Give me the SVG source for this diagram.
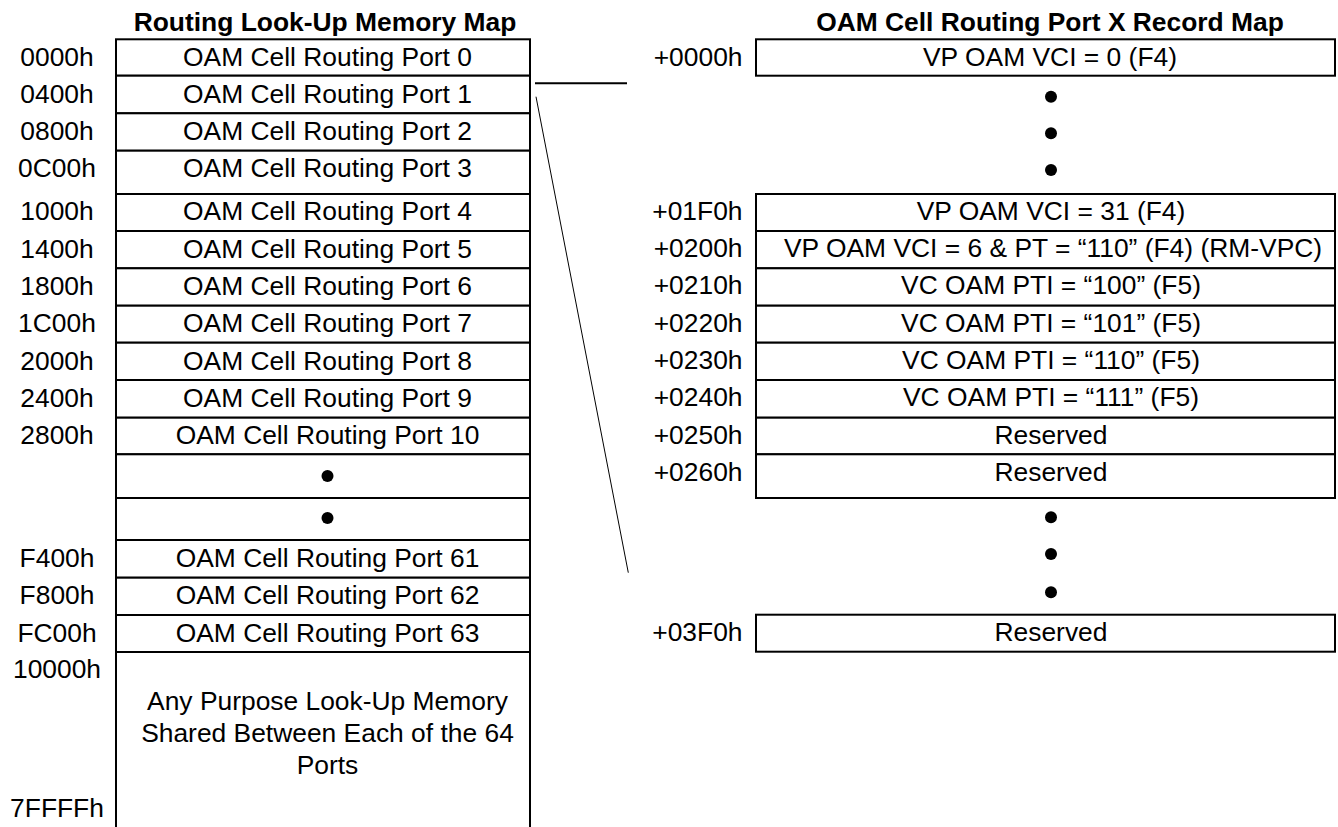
<svg xmlns="http://www.w3.org/2000/svg" width="1338" height="827" viewBox="0 0 1338 827">
<style>
text{font-family:"Liberation Sans",Arial,sans-serif;font-size:26.4px;fill:#000}
.t{font-weight:bold}
.c{text-anchor:middle}
.e{text-anchor:end}
.b{fill:#fff;stroke:#000;stroke-width:2}
.d{fill:#000}
.ln{stroke:#000;fill:none}
</style>
<rect width="1338" height="827" fill="#fff"/>
<text class="t c" x="325" y="31">Routing Look-Up Memory Map</text>
<text class="t c" x="1050" y="31">OAM Cell Routing Port X Record Map</text>

<g id="left-map">
<g id="p0"><rect class="b" x="116" y="39.3" width="414" height="36.4"/><text class="c" x="57" y="66">0000h</text><text class="c" x="327.5" y="66">OAM Cell Routing Port 0</text></g>
<g id="p1"><rect class="b" x="116" y="75.7" width="414" height="37.6"/><text class="c" x="57" y="102.5">0400h</text><text class="c" x="327.5" y="102.5">OAM Cell Routing Port 1</text></g>
<g id="p2"><rect class="b" x="116" y="113.3" width="414" height="37.4"/><text class="c" x="57" y="140">0800h</text><text class="c" x="327.5" y="140">OAM Cell Routing Port 2</text></g>
<g id="p3"><rect class="b" x="116" y="150.7" width="414" height="43.3"/><text class="c" x="57" y="177">0C00h</text><text class="c" x="327.5" y="177">OAM Cell Routing Port 3</text></g>
<g id="p4"><rect class="b" x="116" y="194" width="414" height="37"/><text class="c" x="57" y="220">1000h</text><text class="c" x="327.5" y="220">OAM Cell Routing Port 4</text></g>
<g id="p5"><rect class="b" x="116" y="231" width="414" height="37.3"/><text class="c" x="57" y="257.5">1400h</text><text class="c" x="327.5" y="257.5">OAM Cell Routing Port 5</text></g>
<g id="p6"><rect class="b" x="116" y="268.3" width="414" height="37.4"/><text class="c" x="57" y="295">1800h</text><text class="c" x="327.5" y="295">OAM Cell Routing Port 6</text></g>
<g id="p7"><rect class="b" x="116" y="305.7" width="414" height="37"/><text class="c" x="57" y="332">1C00h</text><text class="c" x="327.5" y="332">OAM Cell Routing Port 7</text></g>
<g id="p8"><rect class="b" x="116" y="342.7" width="414" height="37.3"/><text class="c" x="57" y="369.5">2000h</text><text class="c" x="327.5" y="369.5">OAM Cell Routing Port 8</text></g>
<g id="p9"><rect class="b" x="116" y="380" width="414" height="37.7"/><text class="c" x="57" y="406.8">2400h</text><text class="c" x="327.5" y="406.8">OAM Cell Routing Port 9</text></g>
<g id="p10"><rect class="b" x="116" y="417.7" width="414" height="36.6"/><text class="c" x="57" y="444">2800h</text><text class="c" x="327.5" y="444">OAM Cell Routing Port 10</text></g>
<g id="pdots1"><rect class="b" x="116" y="454.3" width="414" height="43.7"/><circle class="d" cx="327.5" cy="476" r="6"/></g>
<g id="pdots2"><rect class="b" x="116" y="498" width="414" height="42"/><circle class="d" cx="327.5" cy="518" r="6"/></g>
<g id="p61"><rect class="b" x="116" y="540" width="414" height="37.7"/><text class="c" x="57" y="566.7">F400h</text><text class="c" x="327.5" y="566.7">OAM Cell Routing Port 61</text></g>
<g id="p62"><rect class="b" x="116" y="577.7" width="414" height="37.3"/><text class="c" x="57" y="604.3">F800h</text><text class="c" x="327.5" y="604.3">OAM Cell Routing Port 62</text></g>
<g id="p63"><rect class="b" x="116" y="615" width="414" height="37"/><text class="c" x="57" y="641.7">FC00h</text><text class="c" x="327.5" y="641.7">OAM Cell Routing Port 63</text></g>
<g id="shared"><path class="ln" stroke-width="2" d="M116 652H530M116 652V830M530 652V830"/><text class="c" x="57" y="677.5">10000h</text><text class="c" x="57" y="817">7FFFFh</text><text class="c" x="327.5" y="710">Any Purpose Look-Up Memory</text><text class="c" x="327.5" y="742">Shared Between Each of the 64</text><text class="c" x="327.5" y="774">Ports</text></g>
</g>

<g id="right-map">
<g id="r0000"><rect class="b" x="756" y="39.3" width="579" height="36.4"/><text class="e" x="742.5" y="65.5">+0000h</text><text class="c" x="1050" y="65.5">VP OAM VCI = 0 (F4)</text></g>
<g id="rdots1"><circle class="d" cx="1051" cy="96.7" r="6"/><circle class="d" cx="1051" cy="133.3" r="6"/><circle class="d" cx="1051" cy="170" r="6"/></g>
<g id="r01F0"><rect class="b" x="756" y="194" width="579" height="37"/><text class="e" x="742.5" y="219.5">+01F0h</text><text class="c" x="1051" y="219.5">VP OAM VCI = 31 (F4)</text></g>
<g id="r0200"><rect class="b" x="756" y="231" width="579" height="37.3"/><text class="e" x="742.5" y="256.5">+0200h</text><text class="c" x="1053" y="256.5">VP OAM VCI = 6 &amp; PT = “110” (F4) (RM-VPC)</text></g>
<g id="r0210"><rect class="b" x="756" y="268.3" width="579" height="37.4"/><text class="e" x="742.5" y="294">+0210h</text><text class="c" x="1051" y="294">VC OAM PTI = “100” (F5)</text></g>
<g id="r0220"><rect class="b" x="756" y="305.7" width="579" height="37"/><text class="e" x="742.5" y="331.5">+0220h</text><text class="c" x="1051" y="331.5">VC OAM PTI = “101” (F5)</text></g>
<g id="r0230"><rect class="b" x="756" y="342.7" width="579" height="37.3"/><text class="e" x="742.5" y="368.5">+0230h</text><text class="c" x="1051" y="368.5">VC OAM PTI = “110” (F5)</text></g>
<g id="r0240"><rect class="b" x="756" y="380" width="579" height="37.7"/><text class="e" x="742.5" y="406">+0240h</text><text class="c" x="1051" y="406">VC OAM PTI = “111” (F5)</text></g>
<g id="r0250"><rect class="b" x="756" y="417.7" width="579" height="36.6"/><text class="e" x="742.5" y="443.5">+0250h</text><text class="c" x="1051" y="443.5">Reserved</text></g>
<g id="r0260"><rect class="b" x="756" y="454.3" width="579" height="43.7"/><text class="e" x="742.5" y="481">+0260h</text><text class="c" x="1051" y="481">Reserved</text></g>
<g id="rdots2"><circle class="d" cx="1051" cy="517.3" r="6"/><circle class="d" cx="1051" cy="554" r="6"/><circle class="d" cx="1051" cy="592.3" r="6"/></g>
<g id="r03F0"><rect class="b" x="756" y="614.7" width="579" height="37"/><text class="e" x="742.5" y="641">+03F0h</text><text class="c" x="1051" y="641">Reserved</text></g>
</g>

<g id="connectors">
<line class="ln" x1="535" y1="83.3" x2="627" y2="83.3" stroke-width="2"/>
<line class="ln" x1="536" y1="96.7" x2="628.3" y2="572.7" stroke-width="1"/>
</g>
</svg>
